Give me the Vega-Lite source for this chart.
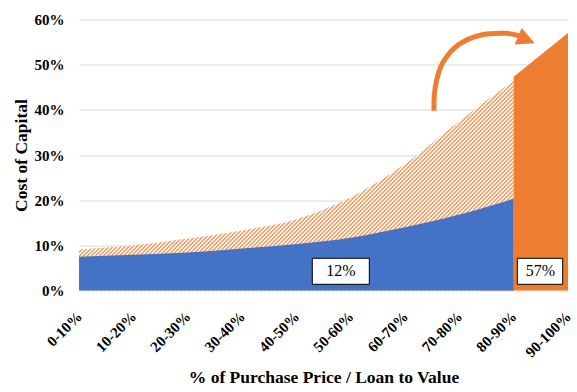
{
"$schema":"https://vega.github.io/schema/vega-lite/v6.json",
"width":489,"height":271,
"autosize":{"type":"none"},
"padding":{"left":79,"top":19.5,"right":9,"bottom":101.5},
"background":"white",
"config":{"view":{"stroke":null},"font":"Liberation Serif"},
"datasets":{
"main":[
{"i":0,"label":"0-10%","blue":7.5,"hatch":9.1,"solid":null},
{"i":1,"label":"10-20%","blue":7.9,"hatch":10.0,"solid":null},
{"i":2,"label":"20-30%","blue":8.4,"hatch":11.5,"solid":null},
{"i":3,"label":"30-40%","blue":9.3,"hatch":13.3,"solid":null},
{"i":4,"label":"40-50%","blue":10.3,"hatch":15.8,"solid":null},
{"i":5,"label":"50-60%","blue":11.7,"hatch":20.6,"solid":null},
{"i":6,"label":"60-70%","blue":14.0,"hatch":28.0,"solid":null},
{"i":7,"label":"70-80%","blue":16.8,"hatch":37.5,"solid":null},
{"i":8,"label":"80-90%","blue":20.3,"hatch":46.5,"solid":47.3},
{"i":9,"label":"90-100%","blue":null,"hatch":null,"solid":57}
],
"arrow":[
{"o":0,"ax":6.534,"ay":39.8},
{"o":1,"ax":6.539,"ay":43.3},
{"o":2,"ax":6.583,"ay":46.6},
{"o":3,"ax":6.657,"ay":49.55},
{"o":4,"ax":6.767,"ay":51.76},
{"o":5,"ax":6.902,"ay":53.62},
{"o":6,"ax":7.073,"ay":55.08},
{"o":7,"ax":7.288,"ay":56.19},
{"o":8,"ax":7.504,"ay":56.79},
{"o":9,"ax":7.872,"ay":56.94},
{"o":10,"ax":8.117,"ay":56.35}
],
"head":[{"hx":8.236,"hy":55.52}],
"boxes":[
{"text":"12%","x0":4.294,"x1":5.343,"y0":1.37,"y1":7.13,"xc":4.82,"yc":4.25},
{"text":"57%","x0":8.067,"x1":8.902,"y0":1.37,"y1":7.13,"xc":8.49,"yc":4.25}
]
},
"layer":[
{"data":{"name":"main"},
"mark":{"type":"area","interpolate":"monotone","fill":{"gradient":"linear","x1":0,"y1":0,"x2":1.24344,"y2":0.60081,"stops":[
{"offset":0.204,"color":"#ED7D31"},{"offset":0.2065,"color":"#fff"},{"offset":0.2075,"color":"#fff"},
{"offset":0.210,"color":"#ED7D31"},{"offset":0.2125,"color":"#fff"},{"offset":0.2135,"color":"#fff"},
{"offset":0.216,"color":"#ED7D31"},{"offset":0.2185,"color":"#fff"},{"offset":0.2195,"color":"#fff"},
{"offset":0.222,"color":"#ED7D31"},{"offset":0.2245,"color":"#fff"},{"offset":0.2255,"color":"#fff"},
{"offset":0.228,"color":"#ED7D31"},{"offset":0.2305,"color":"#fff"},{"offset":0.2315,"color":"#fff"},
{"offset":0.234,"color":"#ED7D31"},{"offset":0.2365,"color":"#fff"},{"offset":0.2375,"color":"#fff"},
{"offset":0.240,"color":"#ED7D31"},{"offset":0.2425,"color":"#fff"},{"offset":0.2435,"color":"#fff"},
{"offset":0.246,"color":"#ED7D31"},{"offset":0.2485,"color":"#fff"},{"offset":0.2495,"color":"#fff"},
{"offset":0.252,"color":"#ED7D31"},{"offset":0.2545,"color":"#fff"},{"offset":0.2555,"color":"#fff"},
{"offset":0.258,"color":"#ED7D31"},{"offset":0.2605,"color":"#fff"},{"offset":0.2615,"color":"#fff"},
{"offset":0.264,"color":"#ED7D31"},{"offset":0.2665,"color":"#fff"},{"offset":0.2675,"color":"#fff"},
{"offset":0.270,"color":"#ED7D31"},{"offset":0.2725,"color":"#fff"},{"offset":0.2735,"color":"#fff"},
{"offset":0.276,"color":"#ED7D31"},{"offset":0.2785,"color":"#fff"},{"offset":0.2795,"color":"#fff"},
{"offset":0.282,"color":"#ED7D31"},{"offset":0.2845,"color":"#fff"},{"offset":0.2855,"color":"#fff"},
{"offset":0.288,"color":"#ED7D31"},{"offset":0.2905,"color":"#fff"},{"offset":0.2915,"color":"#fff"},
{"offset":0.294,"color":"#ED7D31"},{"offset":0.2965,"color":"#fff"},{"offset":0.2975,"color":"#fff"},
{"offset":0.300,"color":"#ED7D31"},{"offset":0.3025,"color":"#fff"},{"offset":0.3035,"color":"#fff"},
{"offset":0.306,"color":"#ED7D31"},{"offset":0.3085,"color":"#fff"},{"offset":0.3095,"color":"#fff"},
{"offset":0.312,"color":"#ED7D31"},{"offset":0.3145,"color":"#fff"},{"offset":0.3155,"color":"#fff"},
{"offset":0.318,"color":"#ED7D31"},{"offset":0.3205,"color":"#fff"},{"offset":0.3215,"color":"#fff"},
{"offset":0.324,"color":"#ED7D31"},{"offset":0.3265,"color":"#fff"},{"offset":0.3275,"color":"#fff"},
{"offset":0.330,"color":"#ED7D31"},{"offset":0.3325,"color":"#fff"},{"offset":0.3335,"color":"#fff"},
{"offset":0.336,"color":"#ED7D31"},{"offset":0.3385,"color":"#fff"},{"offset":0.3395,"color":"#fff"},
{"offset":0.342,"color":"#ED7D31"},{"offset":0.3445,"color":"#fff"},{"offset":0.3455,"color":"#fff"},
{"offset":0.348,"color":"#ED7D31"},{"offset":0.3505,"color":"#fff"},{"offset":0.3515,"color":"#fff"},
{"offset":0.354,"color":"#ED7D31"},{"offset":0.3565,"color":"#fff"},{"offset":0.3575,"color":"#fff"},
{"offset":0.360,"color":"#ED7D31"},{"offset":0.3625,"color":"#fff"},{"offset":0.3635,"color":"#fff"},
{"offset":0.366,"color":"#ED7D31"},{"offset":0.3685,"color":"#fff"},{"offset":0.3695,"color":"#fff"},
{"offset":0.372,"color":"#ED7D31"},{"offset":0.3745,"color":"#fff"},{"offset":0.3755,"color":"#fff"},
{"offset":0.378,"color":"#ED7D31"},{"offset":0.3805,"color":"#fff"},{"offset":0.3815,"color":"#fff"},
{"offset":0.384,"color":"#ED7D31"},{"offset":0.3865,"color":"#fff"},{"offset":0.3875,"color":"#fff"},
{"offset":0.390,"color":"#ED7D31"},{"offset":0.3925,"color":"#fff"},{"offset":0.3935,"color":"#fff"},
{"offset":0.396,"color":"#ED7D31"},{"offset":0.3985,"color":"#fff"},{"offset":0.3995,"color":"#fff"},
{"offset":0.402,"color":"#ED7D31"},{"offset":0.4045,"color":"#fff"},{"offset":0.4055,"color":"#fff"},
{"offset":0.408,"color":"#ED7D31"},{"offset":0.4105,"color":"#fff"},{"offset":0.4115,"color":"#fff"},
{"offset":0.414,"color":"#ED7D31"},{"offset":0.4165,"color":"#fff"},{"offset":0.4175,"color":"#fff"},
{"offset":0.420,"color":"#ED7D31"},{"offset":0.4225,"color":"#fff"},{"offset":0.4235,"color":"#fff"},
{"offset":0.426,"color":"#ED7D31"},{"offset":0.4285,"color":"#fff"},{"offset":0.4295,"color":"#fff"},
{"offset":0.432,"color":"#ED7D31"},{"offset":0.4345,"color":"#fff"},{"offset":0.4355,"color":"#fff"},
{"offset":0.438,"color":"#ED7D31"},{"offset":0.4405,"color":"#fff"},{"offset":0.4415,"color":"#fff"},
{"offset":0.444,"color":"#ED7D31"},{"offset":0.4465,"color":"#fff"},{"offset":0.4475,"color":"#fff"},
{"offset":0.450,"color":"#ED7D31"},{"offset":0.4525,"color":"#fff"},{"offset":0.4535,"color":"#fff"},
{"offset":0.456,"color":"#ED7D31"},{"offset":0.4585,"color":"#fff"},{"offset":0.4595,"color":"#fff"},
{"offset":0.462,"color":"#ED7D31"},{"offset":0.4645,"color":"#fff"},{"offset":0.4655,"color":"#fff"},
{"offset":0.468,"color":"#ED7D31"},{"offset":0.4705,"color":"#fff"},{"offset":0.4715,"color":"#fff"},
{"offset":0.474,"color":"#ED7D31"},{"offset":0.4765,"color":"#fff"},{"offset":0.4775,"color":"#fff"},
{"offset":0.480,"color":"#ED7D31"},{"offset":0.4825,"color":"#fff"},{"offset":0.4835,"color":"#fff"},
{"offset":0.486,"color":"#ED7D31"},{"offset":0.4885,"color":"#fff"},{"offset":0.4895,"color":"#fff"},
{"offset":0.492,"color":"#ED7D31"},{"offset":0.4945,"color":"#fff"},{"offset":0.4955,"color":"#fff"},
{"offset":0.498,"color":"#ED7D31"},{"offset":0.5005,"color":"#fff"},{"offset":0.5015,"color":"#fff"},
{"offset":0.504,"color":"#ED7D31"},{"offset":0.5065,"color":"#fff"},{"offset":0.5075,"color":"#fff"},
{"offset":0.510,"color":"#ED7D31"},{"offset":0.5125,"color":"#fff"},{"offset":0.5135,"color":"#fff"},
{"offset":0.516,"color":"#ED7D31"},{"offset":0.5185,"color":"#fff"},{"offset":0.5195,"color":"#fff"},
{"offset":0.522,"color":"#ED7D31"},{"offset":0.5245,"color":"#fff"},{"offset":0.5255,"color":"#fff"},
{"offset":0.528,"color":"#ED7D31"},{"offset":0.5305,"color":"#fff"},{"offset":0.5315,"color":"#fff"},
{"offset":0.534,"color":"#ED7D31"},{"offset":0.5365,"color":"#fff"},{"offset":0.5375,"color":"#fff"},
{"offset":0.540,"color":"#ED7D31"},{"offset":0.5425,"color":"#fff"},{"offset":0.5435,"color":"#fff"},
{"offset":0.546,"color":"#ED7D31"},{"offset":0.5485,"color":"#fff"},{"offset":0.5495,"color":"#fff"},
{"offset":0.552,"color":"#ED7D31"},{"offset":0.5545,"color":"#fff"},{"offset":0.5555,"color":"#fff"},
{"offset":0.558,"color":"#ED7D31"},{"offset":0.5605,"color":"#fff"},{"offset":0.5615,"color":"#fff"},
{"offset":0.564,"color":"#ED7D31"},{"offset":0.5665,"color":"#fff"},{"offset":0.5675,"color":"#fff"},
{"offset":0.570,"color":"#ED7D31"},{"offset":0.5725,"color":"#fff"},{"offset":0.5735,"color":"#fff"},
{"offset":0.576,"color":"#ED7D31"},{"offset":0.5785,"color":"#fff"},{"offset":0.5795,"color":"#fff"},
{"offset":0.582,"color":"#ED7D31"},{"offset":0.5845,"color":"#fff"},{"offset":0.5855,"color":"#fff"},
{"offset":0.588,"color":"#ED7D31"},{"offset":0.5905,"color":"#fff"},{"offset":0.5915,"color":"#fff"},
{"offset":0.594,"color":"#ED7D31"},{"offset":0.5965,"color":"#fff"},{"offset":0.5975,"color":"#fff"},
{"offset":0.600,"color":"#ED7D31"},{"offset":0.6025,"color":"#fff"},{"offset":0.6035,"color":"#fff"},
{"offset":0.606,"color":"#ED7D31"},{"offset":0.6085,"color":"#fff"},{"offset":0.6095,"color":"#fff"},
{"offset":0.612,"color":"#ED7D31"},{"offset":0.6145,"color":"#fff"},{"offset":0.6155,"color":"#fff"},
{"offset":0.618,"color":"#ED7D31"},{"offset":0.6205,"color":"#fff"},{"offset":0.6215,"color":"#fff"},
{"offset":0.624,"color":"#ED7D31"},{"offset":0.6265,"color":"#fff"},{"offset":0.6275,"color":"#fff"},
{"offset":0.630,"color":"#ED7D31"},{"offset":0.6325,"color":"#fff"},{"offset":0.6335,"color":"#fff"},
{"offset":0.636,"color":"#ED7D31"},{"offset":0.6385,"color":"#fff"},{"offset":0.6395,"color":"#fff"},
{"offset":0.642,"color":"#ED7D31"},{"offset":0.6445,"color":"#fff"},{"offset":0.6455,"color":"#fff"},
{"offset":0.648,"color":"#ED7D31"},{"offset":0.6505,"color":"#fff"},{"offset":0.6515,"color":"#fff"},
{"offset":0.654,"color":"#ED7D31"},{"offset":0.6565,"color":"#fff"},{"offset":0.6575,"color":"#fff"},
{"offset":0.660,"color":"#ED7D31"},{"offset":0.6625,"color":"#fff"},{"offset":0.6635,"color":"#fff"},
{"offset":0.666,"color":"#ED7D31"},{"offset":0.6685,"color":"#fff"},{"offset":0.6695,"color":"#fff"},
{"offset":0.672,"color":"#ED7D31"},{"offset":0.6745,"color":"#fff"},{"offset":0.6755,"color":"#fff"},
{"offset":0.678,"color":"#ED7D31"},{"offset":0.6805,"color":"#fff"},{"offset":0.6815,"color":"#fff"},
{"offset":0.684,"color":"#ED7D31"},{"offset":0.6865,"color":"#fff"},{"offset":0.6875,"color":"#fff"},
{"offset":0.690,"color":"#ED7D31"},{"offset":0.6925,"color":"#fff"},{"offset":0.6935,"color":"#fff"},
{"offset":0.696,"color":"#ED7D31"},{"offset":0.6985,"color":"#fff"},{"offset":0.6995,"color":"#fff"},
{"offset":0.702,"color":"#ED7D31"},{"offset":0.7045,"color":"#fff"},{"offset":0.7055,"color":"#fff"},
{"offset":0.708,"color":"#ED7D31"},{"offset":0.7105,"color":"#fff"},{"offset":0.7115,"color":"#fff"},
{"offset":0.714,"color":"#ED7D31"},{"offset":0.7165,"color":"#fff"},{"offset":0.7175,"color":"#fff"},
{"offset":0.720,"color":"#ED7D31"},{"offset":0.7225,"color":"#fff"},{"offset":0.7235,"color":"#fff"},
{"offset":0.726,"color":"#ED7D31"},{"offset":0.7285,"color":"#fff"},{"offset":0.7295,"color":"#fff"},
{"offset":0.732,"color":"#ED7D31"},{"offset":0.7345,"color":"#fff"},{"offset":0.7355,"color":"#fff"},
{"offset":0.738,"color":"#ED7D31"},{"offset":0.7405,"color":"#fff"},{"offset":0.7415,"color":"#fff"},
{"offset":0.744,"color":"#ED7D31"},{"offset":0.7465,"color":"#fff"},{"offset":0.7475,"color":"#fff"},
{"offset":0.750,"color":"#ED7D31"},{"offset":0.7525,"color":"#fff"},{"offset":0.7535,"color":"#fff"},
{"offset":0.756,"color":"#ED7D31"},{"offset":0.7585,"color":"#fff"},{"offset":0.7595,"color":"#fff"},
{"offset":0.762,"color":"#ED7D31"},{"offset":0.7645,"color":"#fff"},{"offset":0.7655,"color":"#fff"},
{"offset":0.768,"color":"#ED7D31"},{"offset":0.7705,"color":"#fff"},{"offset":0.7715,"color":"#fff"},
{"offset":0.774,"color":"#ED7D31"},{"offset":0.7765,"color":"#fff"},{"offset":0.7775,"color":"#fff"},
{"offset":0.780,"color":"#ED7D31"},{"offset":0.7825,"color":"#fff"},{"offset":0.7835,"color":"#fff"},
{"offset":0.786,"color":"#ED7D31"},{"offset":0.7885,"color":"#fff"},{"offset":0.7895,"color":"#fff"},
{"offset":0.792,"color":"#ED7D31"},{"offset":0.7945,"color":"#fff"},{"offset":0.7955,"color":"#fff"},
{"offset":0.798,"color":"#ED7D31"},{"offset":0.8005,"color":"#fff"},{"offset":0.8015,"color":"#fff"},
{"offset":0.804,"color":"#ED7D31"},{"offset":0.8065,"color":"#fff"},{"offset":0.8075,"color":"#fff"},
{"offset":0.810,"color":"#ED7D31"},{"offset":0.8125,"color":"#fff"},{"offset":0.8135,"color":"#fff"},
{"offset":0.816,"color":"#ED7D31"},{"offset":0.8185,"color":"#fff"},{"offset":0.8195,"color":"#fff"},
{"offset":0.822,"color":"#ED7D31"},{"offset":0.8245,"color":"#fff"},{"offset":0.8255,"color":"#fff"},
{"offset":0.828,"color":"#ED7D31"},{"offset":0.8305,"color":"#fff"},{"offset":0.8315,"color":"#fff"},
{"offset":0.834,"color":"#ED7D31"},{"offset":0.8365,"color":"#fff"},{"offset":0.8375,"color":"#fff"},
{"offset":0.840,"color":"#ED7D31"},{"offset":0.8425,"color":"#fff"},{"offset":0.8435,"color":"#fff"},
{"offset":0.846,"color":"#ED7D31"},{"offset":0.8485,"color":"#fff"},{"offset":0.8495,"color":"#fff"},
{"offset":0.852,"color":"#ED7D31"},{"offset":0.8545,"color":"#fff"},{"offset":0.8555,"color":"#fff"},
{"offset":0.858,"color":"#ED7D31"},{"offset":0.8605,"color":"#fff"},{"offset":0.8615,"color":"#fff"},
{"offset":0.864,"color":"#ED7D31"},{"offset":0.8665,"color":"#fff"},{"offset":0.8675,"color":"#fff"},
{"offset":0.870,"color":"#ED7D31"},{"offset":0.8725,"color":"#fff"},{"offset":0.8735,"color":"#fff"},
{"offset":0.876,"color":"#ED7D31"},{"offset":0.8785,"color":"#fff"},{"offset":0.8795,"color":"#fff"},
{"offset":0.882,"color":"#ED7D31"},{"offset":0.8845,"color":"#fff"},{"offset":0.8855,"color":"#fff"},
{"offset":0.888,"color":"#ED7D31"},{"offset":0.8905,"color":"#fff"},{"offset":0.8915,"color":"#fff"},
{"offset":0.894,"color":"#ED7D31"},{"offset":0.8965,"color":"#fff"},{"offset":0.8975,"color":"#fff"},
{"offset":0.900,"color":"#ED7D31"},{"offset":0.9025,"color":"#fff"},{"offset":0.9035,"color":"#fff"},
{"offset":0.906,"color":"#ED7D31"},{"offset":0.9085,"color":"#fff"},{"offset":0.9095,"color":"#fff"},
{"offset":0.912,"color":"#ED7D31"},{"offset":0.9145,"color":"#fff"},{"offset":0.9155,"color":"#fff"},
{"offset":0.918,"color":"#ED7D31"}
]}},
"encoding":{
"x":{"field":"i","type":"quantitative","scale":{"domain":[0,9],"nice":false,"zero":false},
"axis":{"values":[0,1,2,3,4,5,6,7,8,9],"labelExpr":"['0-10%','10-20%','20-30%','30-40%','40-50%','50-60%','60-70%','70-80%','80-90%','90-100%'][datum.value]","labelAngle":-45,"labelAlign":"right","labelBaseline":"middle","labelFontSize":15,"labelFontWeight":"bold","labelColor":"#000","labelPadding":23,"labelOverlap":false,"labelBound":false,"labelFlush":false,"ticks":false,"domain":false,"grid":false,"title":"% of Purchase Price / Loan to Value","titleFontSize":17.5,"titleFontWeight":"bold","titleColor":"#000","titlePadding":9}},
"y":{"field":"hatch","type":"quantitative","scale":{"domain":[0,60],"nice":false},
"axis":{"values":[0,10,20,30,40,50,60],"labelExpr":"datum.value + '%'","labelFontSize":15,"labelFontWeight":"bold","labelColor":"#000","labelPadding":15,"ticks":false,"domain":false,"gridColor":"#D9D9D9","gridWidth":1,"title":"Cost of Capital","titleFontSize":17.5,"titleFontWeight":"bold","titleColor":"#000","titlePadding":4}},
"y2":{"datum":0}
}},
{"data":{"name":"main"},
"mark":{"type":"area","interpolate":"monotone","color":"#4472C4","opacity":1},
"encoding":{"x":{"field":"i","type":"quantitative"},"y":{"field":"blue","type":"quantitative"}}},
{"data":{"name":"main"},
"mark":{"type":"area","color":"#ED7D31","opacity":1},
"encoding":{"x":{"field":"i","type":"quantitative"},"y":{"field":"solid","type":"quantitative"}}},
{"data":{"name":"arrow"},
"mark":{"type":"line","interpolate":"cardinal","color":"#ED7D31","strokeWidth":5,"strokeCap":"butt"},
"encoding":{"x":{"field":"ax","type":"quantitative"},"y":{"field":"ay","type":"quantitative"},"order":{"field":"o"}}},
{"data":{"name":"head"},
"mark":{"type":"point","shape":"M-1,-1L1,0L-1,1Z","filled":true,"color":"#ED7D31","opacity":1,"size":324,"angle":23,"strokeWidth":0},
"encoding":{"x":{"field":"hx","type":"quantitative"},"y":{"field":"hy","type":"quantitative"}}},
{"data":{"name":"boxes"},
"mark":{"type":"rect","fill":"white","stroke":"black","strokeWidth":1},
"encoding":{"x":{"field":"x0","type":"quantitative"},"x2":{"field":"x1"},"y":{"field":"y0","type":"quantitative"},"y2":{"field":"y1"}}},
{"data":{"name":"boxes"},
"mark":{"type":"text","fontSize":16,"font":"Liberation Serif","color":"black"},
"encoding":{"x":{"field":"xc","type":"quantitative"},"y":{"field":"yc","type":"quantitative"},"text":{"field":"text"}}}
]
}
